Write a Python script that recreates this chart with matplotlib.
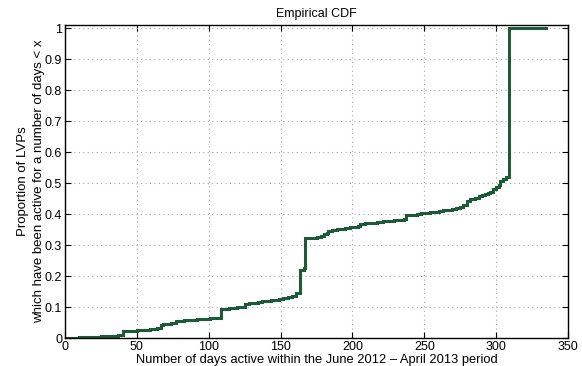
import matplotlib
matplotlib.use("Agg")
import matplotlib.pyplot as plt

plt.rcParams['font.family'] = ['Liberation Sans', 'DejaVu Sans']

# Breakpoints of the empirical CDF: days active and cumulative proportion
days = [0, 5, 10, 15, 20, 25, 28, 31, 34, 37, 39, 40.5, 43, 46, 50, 53, 56, 59,
        62, 64, 66.5, 68, 70, 72, 74, 77, 80, 83, 86, 89, 92, 95, 98, 101, 104,
        108.5, 111, 114, 117, 120, 125, 128, 131, 134, 137, 140, 143, 146,
        149, 152, 155, 158, 160, 161, 163.5, 166, 167, 171, 175, 178, 180, 182,
        183, 186, 189, 192, 195, 198, 201, 204, 205, 209, 213, 217, 221, 225,
        229, 233, 236, 237.5, 241, 245, 248, 251, 254, 257, 260, 263, 266, 269,
        272, 275, 277, 279.5, 282, 285, 288, 290, 292, 294, 296, 298, 300, 302,
        303, 305, 307, 308.6, 335]
cdf = [0.0, 0.001, 0.002, 0.003, 0.004, 0.005, 0.006, 0.007, 0.008, 0.009,
       0.011, 0.021, 0.022, 0.023, 0.025, 0.026, 0.027, 0.028, 0.030, 0.033,
       0.042, 0.044, 0.045, 0.046, 0.048, 0.055, 0.056, 0.057, 0.058, 0.059,
       0.060, 0.061, 0.062, 0.063, 0.065, 0.093, 0.095, 0.097, 0.098, 0.100,
       0.110, 0.112, 0.114, 0.116, 0.118, 0.120, 0.122, 0.124, 0.127, 0.129,
       0.131, 0.134, 0.137, 0.145, 0.220, 0.225, 0.322, 0.324, 0.326, 0.328,
       0.336, 0.340, 0.346, 0.349, 0.351, 0.353, 0.355, 0.357, 0.359, 0.362,
       0.368, 0.370, 0.372, 0.374, 0.376, 0.378, 0.380, 0.382, 0.385, 0.396,
       0.398, 0.400, 0.402, 0.404, 0.406, 0.408, 0.410, 0.412, 0.414, 0.417,
       0.420, 0.424, 0.430, 0.443, 0.447, 0.452, 0.457, 0.461, 0.464, 0.468,
       0.472, 0.480, 0.488, 0.494, 0.505, 0.513, 0.521, 1.0, 1.0]

x_ticks = [0, 50, 100, 150, 200, 250, 300, 350]
y_ticks = [0, 0.1, 0.2, 0.3, 0.4, 0.5, 0.6, 0.7, 0.8, 0.9, 1]
y_tick_labels = ['0', '0.1', '0.2', '0.3', '0.4', '0.5', '0.6', '0.7', '0.8', '0.9', '1']

fig = plt.figure(figsize=(5.82, 3.66), dpi=100)
ax = fig.add_axes([0.1117, 0.0765, 0.8643, 0.8552])

ax.step(days, cdf, where='post', color='#1e5a3a', linewidth=2.2, solid_joinstyle='miter')

ax.set_xlim(0, 350)
ax.set_ylim(0, 1.01)
ax.set_xticks(x_ticks)
ax.set_xticklabels([str(t) for t in x_ticks])
ax.set_yticks(y_ticks)
ax.set_yticklabels(y_tick_labels)

ax.grid(True, color='#a8a8a8', linestyle=(0, (1, 3)), linewidth=0.8)
ax.tick_params(direction='in', length=4, width=0.8, top=True, right=True,
               labelsize=9, pad=2, colors='black')
for s in ax.spines.values():
    s.set_linewidth(1.0)

ax.set_title('Empirical CDF', fontsize=9, pad=6)
ax.set_xlabel('Number of days active within the June 2012 \u2013 April 2013 period',
              fontsize=9.3, labelpad=1)
ax.set_ylabel('Proportion of LVPs\nwhich have been active for a number of days < x',
              fontsize=9.5, labelpad=0, linespacing=1.45)

fig.savefig('out.png', dpi=100)
